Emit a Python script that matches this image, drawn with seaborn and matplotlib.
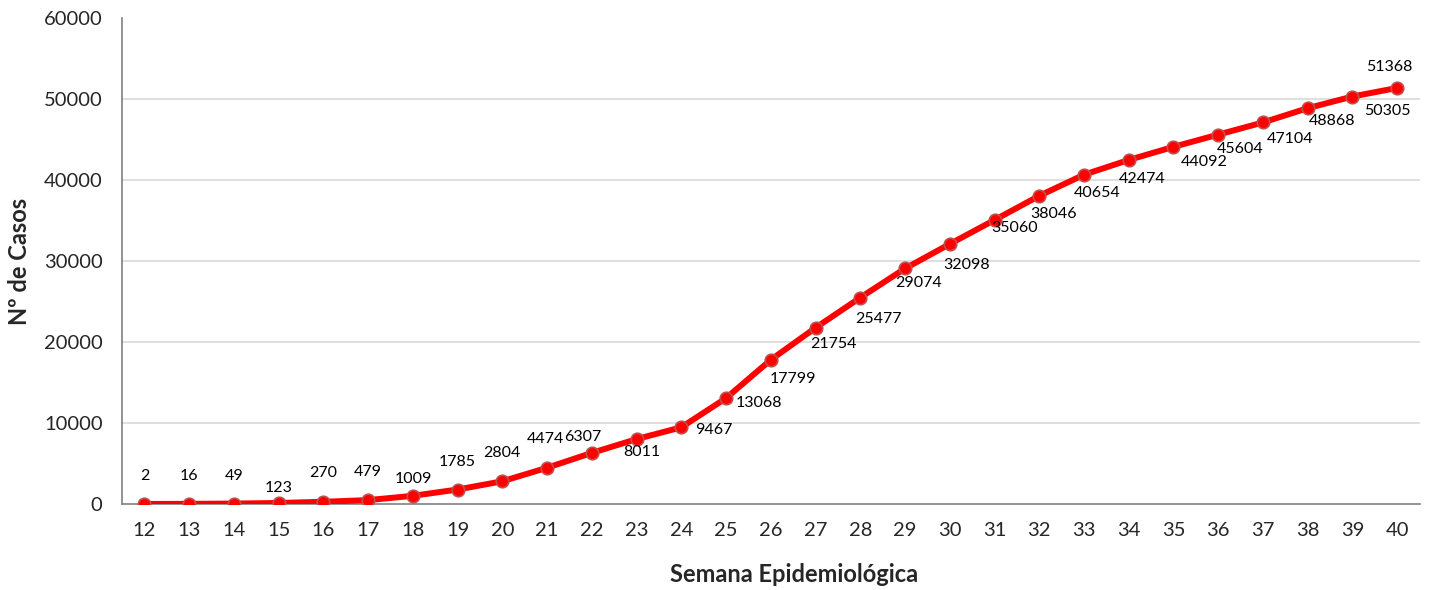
import numpy as np
import matplotlib
matplotlib.use("Agg")
import matplotlib.pyplot as plt
import seaborn as sns
import pandas as pd

# semanas epidemiologicas e casos acumulados
semanas = list(range(12, 41))
casos = [2, 16, 49, 123, 270, 479, 1009, 1785, 2804, 4474, 6307, 8011, 9467,
         13068, 17799, 21754, 25477, 29074, 32098, 35060, 38046, 40654, 42474,
         44092, 45604, 47104, 48868, 50305, 51368]

# label offsets (pixels, screen coords: +x right, +y down)
offs = [(0, -28), (0, -28), (0, -28), (0, -15), (0, -29), (0, -28), (0, -17),
        (0, -28), (0, -28), (-2, -29), (-9, -16), (5, 13), (32, 3), (33, 5),
        (22, 19), (18, 16), (18, 21), (14, 15), (17, 21), (20, 8), (14, 18),
        (13, 18), (13, 19), (31, 15), (22, 14), (27, 17), (24, 13), (35, 14),
        (-8, -21)]

sns.set_style("white")
plt.rcParams['font.family'] = ['Lato', 'DejaVu Sans']

df = pd.DataFrame({"semana": semanas, "casos": casos})

fig = plt.figure(figsize=(14.31, 5.9), dpi=100)
ax = fig.add_axes([0.0853, 0.1458, 0.9067, 0.8237])

sns.lineplot(data=df, x="semana", y="casos", ax=ax, color="#ff0000",
             linewidth=4.3, marker="o", markersize=9,
             markerfacecolor="#ff0000", markeredgecolor="#c0504d",
             markeredgewidth=1.2, zorder=3)

for s, c, (dx, dy) in zip(semanas, casos, offs):
    ax.annotate(str(c), (s, c), xytext=(dx, -dy), textcoords="offset pixels",
                ha="center", va="center", fontsize=11.5, color="black")

ax.set_xlim(11.5, 40.5)
ax.set_ylim(0, 60000)
ax.set_yticks(np.arange(0, 60001, 10000))
ax.set_yticks([0], minor=True)
ax.set_xticks(semanas)
ax.set_xticks(np.arange(11.5, 41, 1), minor=True)
ax.tick_params(axis="x", which="major", length=0, pad=13, labelsize=14.5)
ax.tick_params(axis="x", which="minor", length=6, width=1, color="#808080")
ax.tick_params(axis="y", which="major", length=0, pad=14, labelsize=14.5)
ax.tick_params(axis="y", which="minor", length=7, width=1.2, color="#808080")

for y in range(10000, 60000, 10000):
    ax.axhline(y, color="#d9d9d9", linewidth=1.2, zorder=0)

sns.despine(ax=ax, top=True, right=True)
ax.spines["left"].set_color("#808080")
ax.spines["bottom"].set_color("#808080")
ax.spines["left"].set_linewidth(1.2)
ax.spines["bottom"].set_linewidth(1.2)

ax.set_xlabel("Semana Epidemiológica", fontsize=17, fontweight="bold")
ax.set_ylabel("Nº de Casos", fontsize=17, fontweight="bold")
ax.xaxis.set_label_coords(0.518, -0.122)
ax.yaxis.set_label_coords(-0.07, 0.5)

fig.savefig("out.png", dpi=100)
